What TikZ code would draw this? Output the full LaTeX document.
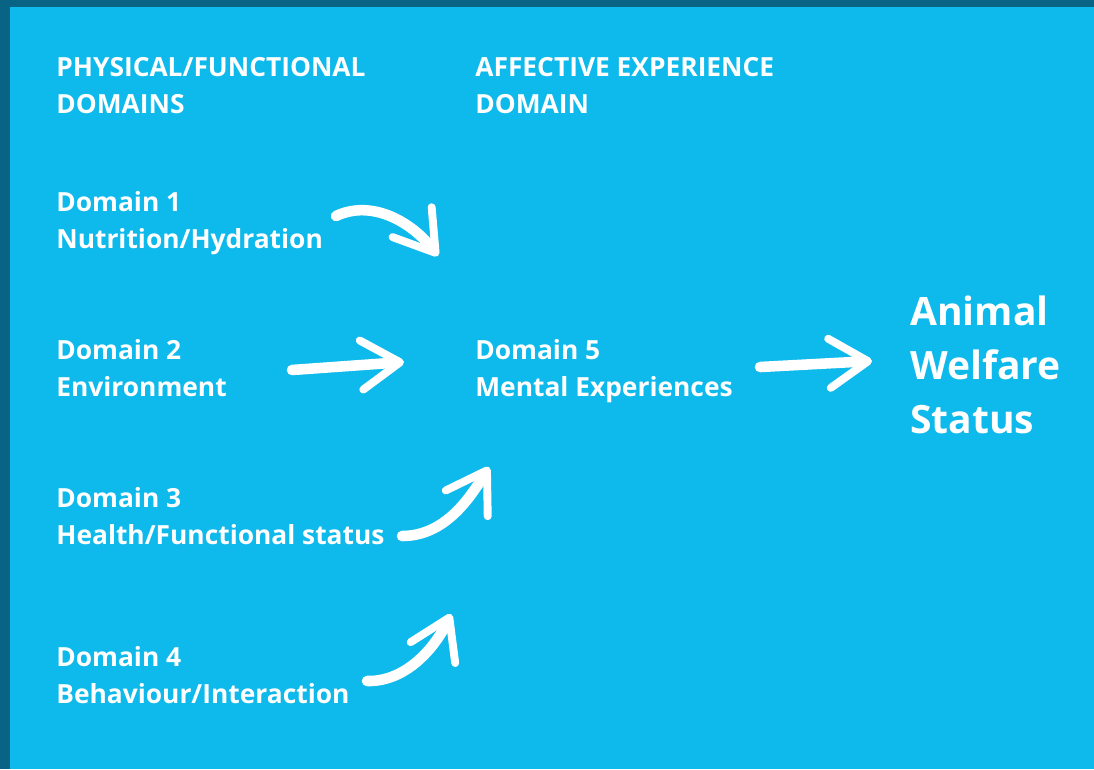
\documentclass[tikz,border=0pt]{standalone}
\usepackage{fontspec}
\setmainfont{Open Sans}
\usetikzlibrary{arrows.meta}
\definecolor{skyblue}{RGB}{14,185,235}
\definecolor{deepblue}{RGB}{8,99,133}
\tikzset{
  domtext/.style={anchor=base west, inner sep=0pt, align=left, text=white,
    font=\fontsize{15}{20.6}\selectfont\bfseries},
  bigtext/.style={domtext, font=\fontsize{22.2}{30.6}\selectfont\bfseries},
  brush/.style={white, line width=6pt, line cap=round,
    -{Straight Barb[length=22pt, width=28pt, line width=4.5pt, round]}}
}
\begin{document}
\begin{tikzpicture}[x=0.02cm, y=-0.02cm]
    \fill[deepblue] (0,0) rectangle (1094,769);
    \fill[skyblue] (10,7) rectangle (1094,769);
    \useasboundingbox (0,0) rectangle (1094,769);
    % multi-line nodes sit on the baseline of their last line
    \node[domtext] (phys) at (56,113) {PHYSICAL/FUNCTIONAL\\DOMAINS};
    \node[domtext] (aff) at (475,113) {AFFECTIVE EXPERIENCE\\DOMAIN};
    \foreach \n/\y/\txt in {1/248/{Nutrition/Hydration}, 2/396/{Environment},
        3/544/{Health/Functional status}, 4/703/{Behaviour/Interaction}}
    \node[domtext] (d\n) at (56,\y) {Domain \n\\\txt};
    \node[domtext] (d5) at (475,396) {Domain 5\\Mental Experiences};
    \node[bigtext] (aws) at (910,433) {Animal\\Welfare\\Status};
    % arrow ends
    \coordinate (s1) at (336,216); \coordinate (e1) at (438,256);
    \coordinate (s2) at (292,370); \coordinate (e2) at (404,362);
    \coordinate (s3) at (402,536); \coordinate (e3) at (489,467);
    \coordinate (s4) at (367,681); \coordinate (e4) at (451,614);
    \coordinate (s5) at (760,367); \coordinate (e5) at (872,361);
    \draw[brush] (s1) .. controls (372,199) and (412,222) .. (e1);
    \draw[brush] (s2) -- (e2);
    \draw[brush] (s3) .. controls (445,536) and (470,498) .. (e3);
    \draw[brush] (s4) .. controls (407,682) and (436,646) .. (e4);
    \draw[brush] (s5) -- (e5);
\end{tikzpicture}
\end{document}
